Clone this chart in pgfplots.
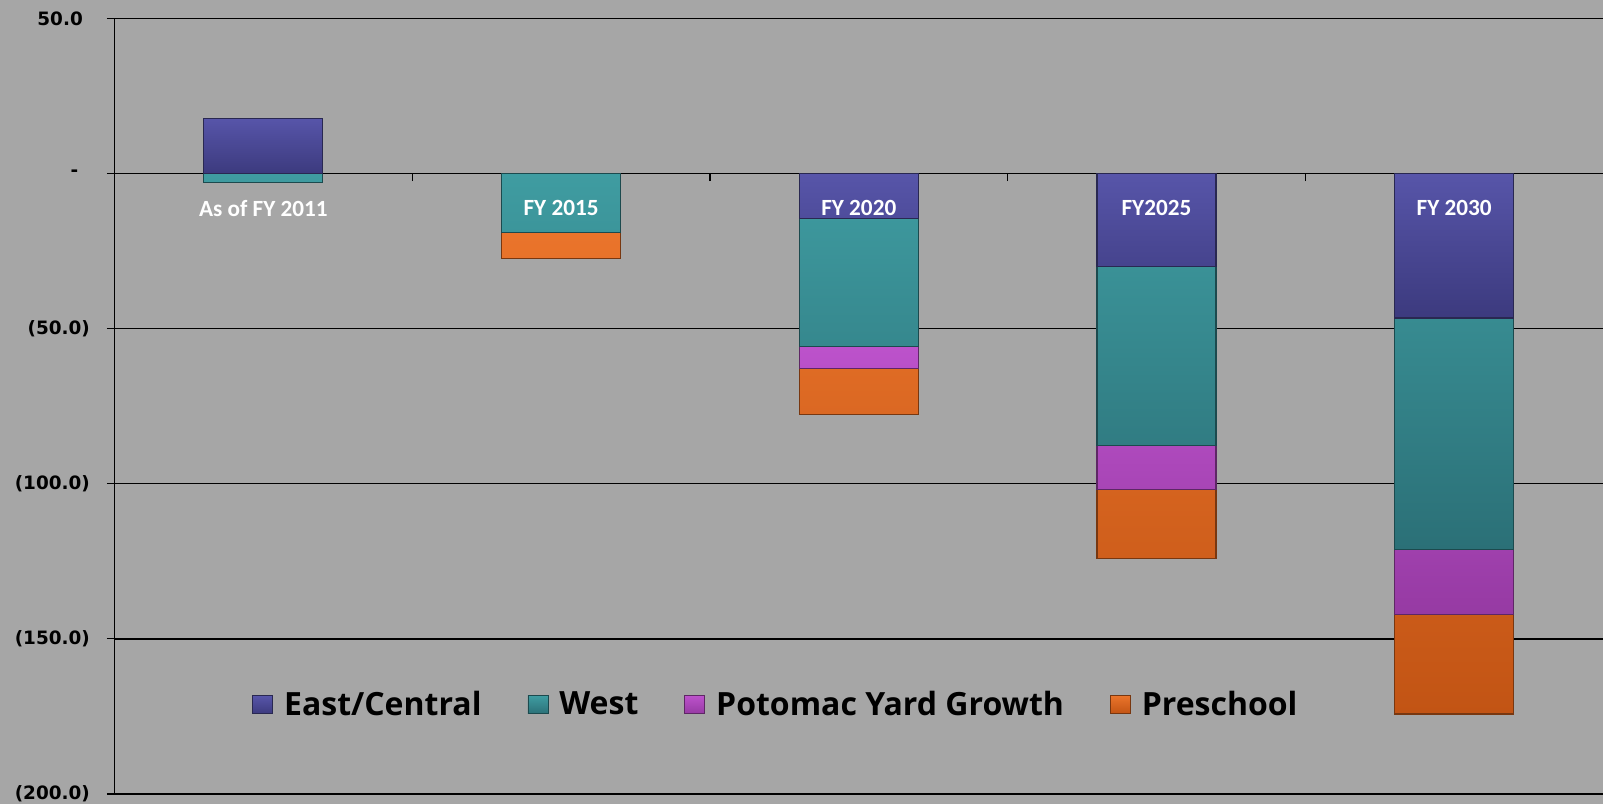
\documentclass[border=0pt]{standalone}
\usepackage{fontspec}
\setmainfont{Carlito}
\newfontfamily\legfont{Open Sans}
\newfontfamily\tickfont{DejaVu Sans}
\usepackage{pgfplots}
\pgfplotsset{compat=1.18}
\usetikzlibrary{backgrounds,calc}
\definecolor{bg}{HTML}{A6A6A6}
\definecolor{east}{HTML}{4A4893}
\definecolor{eastT}{HTML}{5755A9}
\definecolor{eastB}{HTML}{3C3A7E}
\definecolor{west}{HTML}{33878D}
\definecolor{westT}{HTML}{3F9CA1}
\definecolor{westB}{HTML}{2B7077}
\definecolor{poto}{HTML}{AB47B8}
\definecolor{potoT}{HTML}{BC52CB}
\definecolor{potoB}{HTML}{963AA3}
\definecolor{pre}{HTML}{DB641E}
\definecolor{preT}{HTML}{EA742B}
\definecolor{preB}{HTML}{C25414}
\pgfplotsset{
  common/.style={scale only axis, width=744.25pt, height=387.8pt,
    xmin=-0.5, xmax=4.5, ymin=-200, ymax=50, bar width=0.4},
  sqlegend/.style={legend image code/.code={\draw[##1, line width=0.4pt] (0pt,-4.5pt) rectangle (10pt,4.5pt);}},
}
\begin{document}
\begin{tikzpicture}
\begin{axis}[common, name=main, ybar stacked,
  axis y line=left, axis x line=middle,
  axis line style={-, black, line width=0.8pt},
  hide obscured x ticks=false, hide obscured y ticks=false,
  ytick={-200,-150,-100,-50,0,50},
  yticklabels={(200.0),(150.0),(100.0),(50.0),-\kern5.8pt,50.0\kern3.5pt},
  yticklabel style={font=\tickfont\bfseries\fontsize{9.2}{11}\selectfont, anchor=east, xshift=-5pt},
  ytick align=outside, major tick length=3.8pt,
  xtick={0.5,1.5,2.5,3.5}, xticklabels={}, xtick align=outside,
  tick style={black, line width=0.6pt},
  ymajorgrids, grid style={black, line width=0.7pt},
  legend columns=4,
  legend style={at={(0.445,0.115)}, anchor=center, draw=none, fill=none,
    font=\legfont\bfseries\fontsize{16}{19}\selectfont,
    /tikz/every odd column/.append style={column sep=3.5pt},
    /tikz/every even column/.append style={column sep=21pt}},
]
\addplot[sqlegend, top color=eastT, bottom color=eastB, draw=east!55!black, line width=0.6pt] coordinates {(0,0) (1,0) (2,-14.5) (3,-29.9) (4,-46.6)};
\addplot[sqlegend, top color=westT, bottom color=westB, draw=west!55!black, line width=0.6pt] coordinates {(0,-3.0) (1,-19.1) (2,-41.3) (3,-57.8) (4,-74.5)};
\addplot[sqlegend, top color=potoT, bottom color=potoB, draw=poto!55!black, line width=0.6pt] coordinates {(0,0) (1,0) (2,-7.0) (3,-14.2) (4,-21.1)};
\addplot[sqlegend, top color=preT, bottom color=preB, draw=pre!55!black, line width=0.6pt] coordinates {(0,0) (1,-8.2) (2,-15.0) (3,-22.1) (4,-32.0)};
\legend{East/Central, West, Potomac Yard Growth, Preschool}
\end{axis}
\begin{axis}[common, ybar, bar shift=0pt, hide axis]
\addplot[top color=eastT, bottom color=eastB, draw=east!55!black, line width=0.6pt] coordinates {(0,17.7)};
\begin{scope}[every node/.style={text=white, font=\bfseries\fontsize{11.6}{13}\selectfont}]
\node at (axis cs:0,-11.2) {As of FY 2011};
\node at (axis cs:1,-11.2) {FY 2015};
\node at (axis cs:2,-11.2) {FY 2020};
\node at (axis cs:3,-11.2) {FY2025};
\node at (axis cs:4,-11.2) {FY 2030};
\end{scope}
\end{axis}
\pgfresetboundingbox
\path[use as bounding box] ($(main.south west)+(-57.25pt,-5pt)$) rectangle ($(main.north east)+(0,9.2pt)$);
\begin{scope}[on background layer]
\fill[bg] ($(main.south west)+(-57.25pt,-5pt)$) rectangle ($(main.north east)+(0,9.2pt)$);
\end{scope}
\end{tikzpicture}
\end{document}
